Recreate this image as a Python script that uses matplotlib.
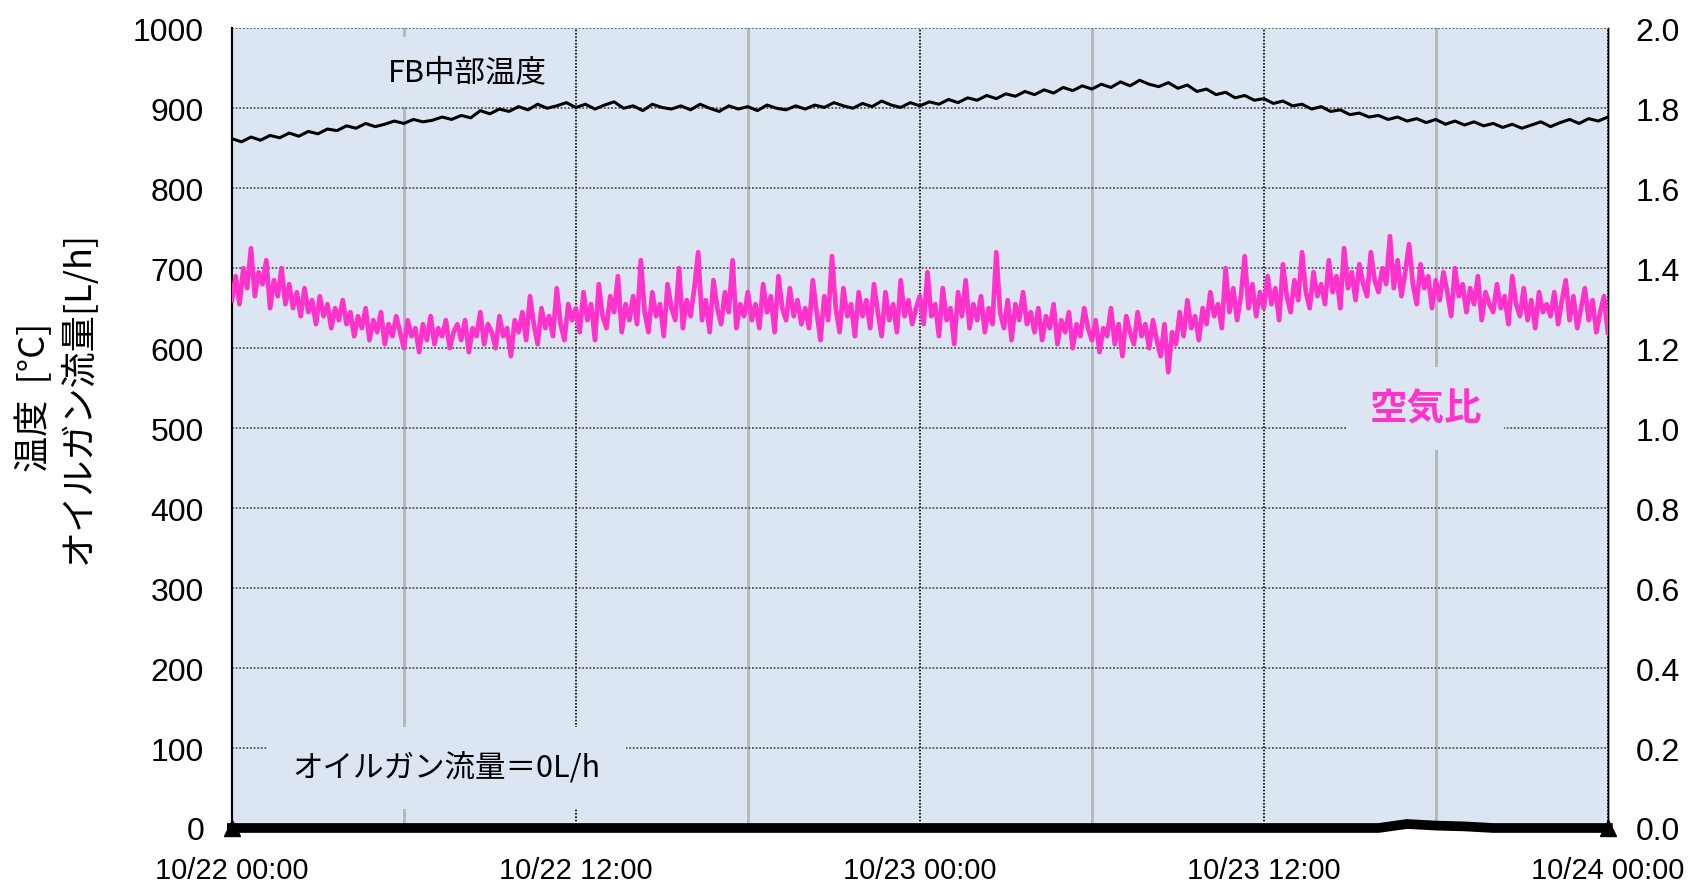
import matplotlib
matplotlib.use("Agg")
import matplotlib.pyplot as plt
import matplotlib.dates as mdates
import numpy as np
import pandas as pd

# FB中部温度 [°C], 20分おき (10/22 00:00 - 10/24 00:00)
fb_temp = [
    862, 858, 864, 860, 866, 863, 869, 865, 871, 868, 874, 872,
    878, 875, 881, 877, 880, 884, 881, 886, 883, 885, 889, 886,
    891, 888, 897, 893, 899, 896, 902, 898, 905, 900, 903, 907,
    901, 905, 899, 904, 908, 900, 903, 897, 905, 901, 899, 903,
    898, 905, 900, 896, 903, 899, 902, 897, 904, 900, 898, 903,
    899, 904, 901, 907, 903, 900, 906, 902, 909, 904, 901, 907,
    903, 908, 905, 911, 907, 913, 910, 916, 912, 918, 915, 921,
    917, 923, 919, 926, 922, 928, 924, 930, 926, 933, 928, 935,
    930, 927, 932, 925, 929, 921, 924, 917, 920, 913, 916, 910,
    912, 906, 909, 903, 905, 899, 902, 896, 898, 892, 894, 889,
    891, 886, 889, 884, 887, 882, 886, 880, 884, 879, 883, 878,
    881, 876, 880, 875, 879, 883, 877, 882, 886, 881, 887, 884, 889,
]

# 空気比, 8分おき
air_ratio = [
    1.32, 1.38, 1.31, 1.40, 1.35, 1.45, 1.33, 1.39, 1.36, 1.42, 1.30, 1.37, 1.33, 1.40, 1.31,
    1.36, 1.30, 1.34, 1.28, 1.35, 1.29, 1.32, 1.26, 1.33, 1.28, 1.31, 1.25, 1.30, 1.27, 1.32,
    1.26, 1.29, 1.23, 1.28, 1.25, 1.30, 1.22, 1.27, 1.24, 1.29, 1.21, 1.26, 1.23, 1.28, 1.24,
    1.20, 1.27, 1.23, 1.25, 1.19, 1.26, 1.22, 1.28, 1.21, 1.25, 1.23, 1.27, 1.20, 1.24, 1.26,
    1.22, 1.27, 1.19, 1.25, 1.23, 1.29, 1.21, 1.26, 1.24, 1.20, 1.28, 1.23, 1.25, 1.18, 1.27,
    1.24, 1.29, 1.22, 1.33, 1.26, 1.21, 1.30, 1.25, 1.28, 1.23, 1.35, 1.26, 1.22, 1.31, 1.27,
    1.30, 1.24, 1.34, 1.27, 1.31, 1.22, 1.36, 1.28, 1.25, 1.33, 1.29, 1.38, 1.24, 1.31, 1.27,
    1.33, 1.26, 1.42, 1.29, 1.24, 1.34, 1.28, 1.31, 1.23, 1.36, 1.30, 1.27, 1.40, 1.25, 1.32,
    1.28, 1.35, 1.44, 1.27, 1.32, 1.24, 1.37, 1.30, 1.26, 1.34, 1.29, 1.42, 1.25, 1.31, 1.28,
    1.34, 1.27, 1.31, 1.25, 1.36, 1.29, 1.33, 1.24, 1.38, 1.30, 1.27, 1.35, 1.28, 1.32, 1.26,
    1.30, 1.25, 1.37, 1.29, 1.22, 1.33, 1.27, 1.43, 1.30, 1.24, 1.35, 1.28, 1.31, 1.23, 1.34,
    1.28, 1.32, 1.25, 1.36, 1.29, 1.23, 1.34, 1.27, 1.31, 1.24, 1.37, 1.28, 1.32, 1.26, 1.30,
    1.33, 1.26, 1.39, 1.28, 1.31, 1.23, 1.35, 1.27, 1.30, 1.21, 1.34, 1.28, 1.37, 1.25, 1.31,
    1.27, 1.33, 1.24, 1.30, 1.26, 1.44, 1.29, 1.25, 1.32, 1.22, 1.31, 1.27, 1.34, 1.26, 1.29,
    1.24, 1.30, 1.22, 1.28, 1.25, 1.31, 1.21, 1.27, 1.24, 1.29, 1.20, 1.26, 1.23, 1.30, 1.25,
    1.22, 1.27, 1.19, 1.25, 1.23, 1.30, 1.21, 1.26, 1.18, 1.28, 1.24, 1.21, 1.29, 1.23, 1.26,
    1.20, 1.27, 1.22, 1.18, 1.26, 1.14, 1.24, 1.21, 1.29, 1.23, 1.32, 1.25, 1.28, 1.22, 1.30,
    1.26, 1.34, 1.28, 1.31, 1.25, 1.40, 1.29, 1.35, 1.27, 1.33, 1.43, 1.30, 1.36, 1.28, 1.34,
    1.30, 1.38, 1.31, 1.35, 1.27, 1.41, 1.33, 1.29, 1.37, 1.32, 1.44, 1.34, 1.30, 1.39, 1.33,
    1.36, 1.31, 1.42, 1.34, 1.38, 1.30, 1.45, 1.35, 1.39, 1.32, 1.41, 1.36, 1.33, 1.44, 1.37,
    1.34, 1.40, 1.36, 1.48, 1.35, 1.42, 1.33, 1.39, 1.46, 1.36, 1.31, 1.41, 1.35, 1.38, 1.30,
    1.37, 1.32, 1.39, 1.34, 1.28, 1.40, 1.33, 1.36, 1.29, 1.35, 1.31, 1.38, 1.27, 1.34, 1.31,
    1.29, 1.36, 1.30, 1.33, 1.26, 1.38, 1.31, 1.28, 1.35, 1.27, 1.32, 1.25, 1.34, 1.29, 1.31,
    1.28, 1.34, 1.26, 1.32, 1.37, 1.27, 1.33, 1.25, 1.30, 1.35, 1.27, 1.32, 1.24, 1.29, 1.33, 1.24,
]

# オイルガン流量 [L/h], 1時間おき
oil_flow = [0] * 41 + [5, 3, 2] + [0] * 5

x_labels = ["10/22 00:00", "10/22 12:00", "10/23 00:00", "10/23 12:00", "10/24 00:00"]

start = pd.Timestamp("2023-10-22 00:00")
end = pd.Timestamp("2023-10-24 00:00")
t_temp = pd.date_range(start, end, periods=len(fb_temp))
t_air = pd.date_range(start, end, periods=len(air_ratio))
t_oil = pd.date_range(start, end, periods=len(oil_flow))

jp = ["Noto Sans CJK JP", "DejaVu Sans"]
num = ["Liberation Sans", "DejaVu Sans"]
bg = "#dce6f2"
pink = "#ff33cc"

fig = plt.figure(figsize=(17.05, 8.87), dpi=100)
ax = fig.add_axes([0.136, 0.0654, 0.807, 0.9016])
ax.set_facecolor(bg)
ax2 = ax.twinx()

ax.set_xlim(start, end)
ax.set_ylim(0, 1000)
ax2.set_ylim(0, 2.0)

# grid
ax.set_yticks(np.arange(0, 1001, 100))
ax.grid(axis="y", color="#555555", linestyle=(0, (1, 1)), linewidth=1.3)
ax.xaxis.set_major_locator(mdates.HourLocator(byhour=[0, 12]))
ax.xaxis.set_minor_locator(mdates.HourLocator(byhour=[6, 18]))
ax.grid(axis="x", which="major", color="black", linestyle=(0, (1, 1)), linewidth=1.2)
ax.grid(axis="x", which="minor", color="#b5b5b5", linestyle="-", linewidth=2)
ax.set_axisbelow(True)

ax.set_xticks(pd.date_range(start, end, freq="12h"))
ax.set_xticklabels(x_labels, fontsize=21, family=num)
ax.tick_params(axis="x", which="both", length=0, pad=20)
ax.tick_params(axis="y", length=0, pad=20, labelsize=23)
ax2.set_yticks(np.arange(0, 2.01, 0.2))
ax2.set_yticklabels([f"{v:.1f}" for v in np.arange(0, 2.01, 0.2)])
ax2.tick_params(axis="y", length=0, pad=20, labelsize=23)
for lab in ax.get_yticklabels() + ax2.get_yticklabels():
    lab.set_family(num)

for a in (ax, ax2):
    a.spines["top"].set_visible(False)
    a.spines["bottom"].set_visible(False)
    a.spines["left"].set_linewidth(1.5)
    a.spines["right"].set_linewidth(1.0)

# series
ax2.plot(t_air, air_ratio, color=pink, linewidth=3.4, zorder=3)
ax2.plot(t_temp, np.array(fb_temp) / 500.0, color="black", linewidth=2.2, zorder=3)
ax2.plot(t_oil, np.array(oil_flow) / 500.0, color="black", linewidth=7, zorder=4,
         clip_on=False, marker="^", markersize=11, markevery=[0, len(oil_flow) - 1])

# labels
ax.text(start + pd.Timedelta(hours=8.2), 945, "FB中部温度", fontsize=22, family=jp,
        ha="center", va="center", bbox=dict(facecolor=bg, edgecolor="none", pad=14), zorder=5)
ax.text(start + pd.Timedelta(hours=41.65), 525, "空気比", fontsize=27, family=jp,
        fontweight="bold", color=pink, ha="center", va="center",
        bbox=dict(facecolor=bg, edgecolor="none", pad=16), zorder=5)
ax.text(start + pd.Timedelta(hours=7.5), 75, "オイルガン流量＝0L/h", fontsize=22, family=jp,
        ha="center", va="center", bbox=dict(facecolor=bg, edgecolor="none", pad=18), zorder=5)
fig.text(0.033, 0.552, "温度  [°C]\nオイルガン流量[L/h]", rotation=90, fontsize=26,
         family=jp, ha="center", va="center", linespacing=1.25)

fig.savefig("out.png", dpi=100)
